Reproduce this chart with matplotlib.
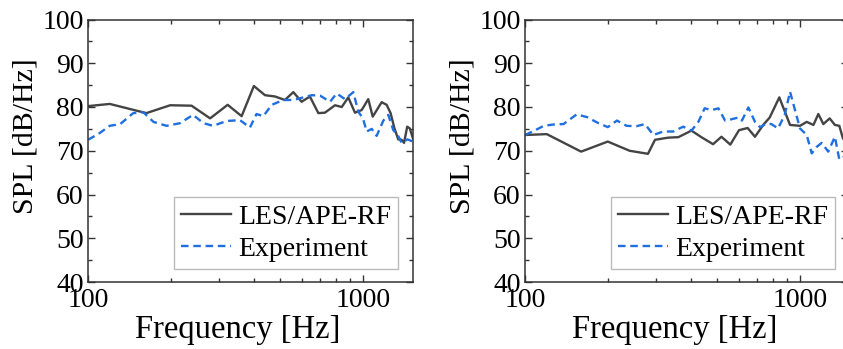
import math

import matplotlib
matplotlib.use("Agg")
import matplotlib.pyplot as plt
from matplotlib.ticker import MultipleLocator, FixedLocator, NullFormatter

# ── Data ──────────────────────────────────────────────────────────────────────

# left panel
les_a_f = [100, 120, 163, 199, 238, 278, 322, 362, 401, 440, 479, 520, 558, 598,
           641, 688, 727, 791, 837, 884, 935, 989, 1045, 1085, 1169, 1219, 1260,
           1300, 1343, 1382, 1410, 1448, 1480, 1520]
les_a_spl = [80.2, 80.7, 78.6, 80.4, 80.3, 77.4, 80.5, 77.9, 84.8, 82.7, 82.4, 81.6,
             83.4, 81.2, 82.4, 78.6, 78.7, 80.4, 80.0, 82.2, 78.7, 79.3, 81.8, 77.8,
             81.1, 80.5, 78.6, 75.2, 72.6, 72.5, 71.8, 75.5, 75.1, 72.8]
exp_a_f = [100, 110, 120, 131, 146, 159, 173, 193, 216, 241, 263, 285, 319, 357, 388,
           410, 434, 466, 513, 558, 607, 651, 698, 759, 802, 860, 922, 962, 1000,
           1031, 1076, 1121, 1186, 1236, 1289, 1340, 1382, 1450, 1520]
exp_a_spl = [72.5, 74.0, 75.7, 76.1, 78.6, 78.8, 76.6, 75.7, 76.3, 78.2, 76.3, 75.7,
             76.8, 77.0, 75.3, 78.4, 77.9, 80.5, 81.6, 81.6, 82.2, 82.7, 82.6, 81.2,
             83.1, 81.8, 83.4, 78.9, 77.4, 74.4, 75.0, 73.4, 76.9, 78.2, 74.7, 73.5,
             71.8, 72.6, 72.1]

# right panel
les_b_f = [100, 120, 160, 200, 240, 280, 297, 332, 361, 403, 438, 483, 518, 558, 600,
           645, 686, 735, 776, 841, 920, 1000, 1058, 1119, 1166, 1216, 1282, 1339,
           1390, 1433, 1500]
les_b_spl = [73.6, 73.8, 69.8, 72.1, 70.0, 69.3, 72.5, 73.0, 73.1, 74.6, 73.1, 71.5,
             73.2, 71.4, 74.7, 75.2, 73.2, 75.9, 77.6, 82.2, 75.9, 75.7, 76.6, 75.9,
             78.4, 76.1, 77.4, 75.9, 75.7, 72.8, 71.5]
exp_b_f = [100, 109, 117, 127, 138, 154, 168, 185, 200, 216, 234, 254, 273, 293, 318,
           346, 376, 403, 427, 450, 477, 505, 534, 564, 597, 615, 649, 686, 715, 750,
           787, 832, 880, 920, 959, 1000, 1058, 1103, 1151, 1199, 1267, 1339, 1390,
           1433, 1500]
exp_b_spl = [73.6, 74.7, 75.7, 76.0, 76.1, 78.3, 77.7, 76.3, 75.4, 76.9, 75.7, 75.6,
             76.1, 73.6, 74.4, 74.4, 75.5, 74.6, 76.6, 79.7, 79.3, 79.7, 76.9, 77.2,
             77.6, 76.9, 79.9, 76.6, 75.4, 76.1, 76.1, 75.1, 78.2, 83.5, 79.3, 75.1,
             73.6, 69.4, 70.9, 71.8, 69.8, 73.2, 68.0, 68.5, 68.5]

panels = [
    (les_a_f, les_a_spl, exp_a_f, exp_a_spl, 1520),
    (les_b_f, les_b_spl, exp_b_f, exp_b_spl, 1500),
]

# ── Plotting ──────────────────────────────────────────────────────────────────

plt.rcParams["font.family"] = ["Liberation Serif", "DejaVu Serif"]

W, H = 843, 349
fig = plt.figure(figsize=(W / 100, H / 100), dpi=100)

decade_px = 275.0
lefts_px = [88, 525]
bottom_px, top_px = 282, 19.5
legend_right_px = [398, 835]

for (lf, ls, ef, es, xmax), left_px, leg_r in zip(panels, lefts_px, legend_right_px):
    # right panel runs past the figure edge, like the cropped original
    width_px = decade_px * math.log10(xmax / 100)
    ax = fig.add_axes([left_px / W, 1 - bottom_px / H,
                       width_px / W, (bottom_px - top_px) / H])
    ax.plot(lf, ls, color="#444444", lw=1.7, label="LES/APE-RF")
    ax.plot(ef, es, color="#1f6fe0", lw=1.7, ls=(0, (3.2, 2.0)), label="Experiment")
    ax.set_xscale("log")
    ax.set_xlim(100, xmax)
    ax.set_ylim(40, 100)
    ax.xaxis.set_major_locator(FixedLocator([100, 1000]))
    ax.xaxis.set_major_formatter(plt.FuncFormatter(lambda v, p: f"{int(v)}"))
    ax.xaxis.set_minor_locator(FixedLocator([k * 100 for k in range(2, 10)] + [2000]))
    ax.xaxis.set_minor_formatter(NullFormatter())
    ax.yaxis.set_major_locator(MultipleLocator(10))
    ax.yaxis.set_minor_locator(MultipleLocator(5))
    ax.tick_params(which="both", direction="in", top=True, right=True,
                   width=1.0, color="#333333")
    ax.tick_params(which="major", length=5, labelsize=20)
    ax.tick_params(axis="x", which="major", pad=4)
    ax.tick_params(axis="y", which="major", pad=3)
    ax.tick_params(which="minor", length=3)
    for s in ax.spines.values():
        s.set_linewidth(1.1)
        s.set_color("#333333")
    ax.set_xlabel("Frequency [Hz]", fontsize=23.5)
    ax.set_ylabel("SPL [dB/Hz]", fontsize=21.5)
    ax.xaxis.set_label_coords(0.462, -0.125)
    ax.yaxis.set_label_coords(-0.153, 0.557)
    leg = ax.legend(loc="lower right", fontsize=20, frameon=True, fancybox=False,
                    handlelength=1.8, handletextpad=0.25, borderpad=0.25,
                    labelspacing=0.25, borderaxespad=0.0, framealpha=1,
                    bbox_to_anchor=((leg_r - left_px) / width_px, 13 / (bottom_px - top_px)))
    leg.get_frame().set_edgecolor("#bbbbbb")
    leg.get_frame().set_linewidth(1.0)

fig.savefig("out.png", dpi=100)
